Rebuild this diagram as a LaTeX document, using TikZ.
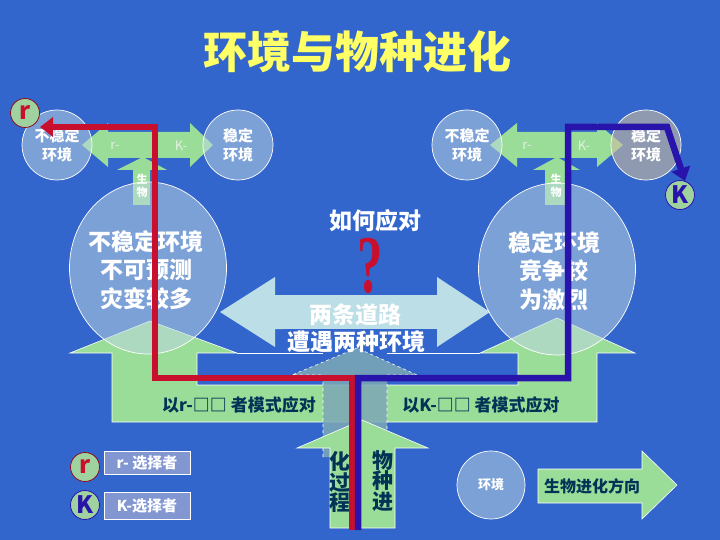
\documentclass[tikz,border=0pt]{standalone}
\usepackage{fontspec}
\setmainfont{Noto Sans CJK SC}
\newfontfamily\qfont{Liberation Serif}
\usetikzlibrary{arrows.meta,shapes.geometric}
\definecolor{bgblue}{RGB}{51,102,204}
\definecolor{titleyellow}{RGB}{255,255,102}
\definecolor{agreen}{RGB}{153,221,153}
\definecolor{acyan}{RGB}{188,222,230}
\definecolor{ateal}{RGB}{125,168,182}
\definecolor{navy}{RGB}{0,51,85}
\definecolor{circfill}{RGB}{190,215,225}
\definecolor{grayfill}{RGB}{205,190,160}
\definecolor{legfill}{RGB}{130,150,210}
\definecolor{redline}{RGB}{200,16,46}
\definecolor{blueline}{RGB}{40,20,170}
\definecolor{palegreen}{RGB}{225,242,225}
\definecolor{badgegreen}{RGB}{160,210,160}
\begin{document}
\begin{tikzpicture}[x=1pt,y=-1pt,
  greenshape/.style={fill=agreen, draw=white, line width=0.6pt},
  circ/.style={circle, fill=circfill, fill opacity=0.53, text opacity=1, draw=white, line width=0.7pt,
    minimum size=70pt, inner sep=0pt, text=white, font=\bfseries\fontsize{15}{19}\selectfont, align=center},
  bigell/.style={ellipse, fill=circfill, fill opacity=0.53, draw=white, line width=0.7pt,
    minimum width=157pt, minimum height=172pt, inner sep=0pt},
  bigtxt/.style={text=white, font=\bfseries\fontsize{23}{28.5}\selectfont, align=center, inner sep=0pt},
  smalltxt/.style={text=white, font=\bfseries\fontsize{11}{13}\selectfont, align=center, inner sep=0pt},
  lighttxt/.style={text=palegreen, font=\fontsize{13}{13}\selectfont, inner sep=0pt},
  navytxt/.style={text=navy, font=\bfseries\fontsize{17}{17}\selectfont, inner sep=0pt},
  coltxt/.style={text=navy, font=\bfseries\fontsize{21}{20.5}\selectfont, align=center, inner sep=0pt},
  routered/.style={draw=redline, line width=6.5pt, -{Triangle[length=13pt,width=19pt]}},
  routeblue/.style={draw=blueline, line width=6.5pt, -{Triangle[length=13pt,width=19pt]}},
  badge/.style={circle, fill=badgegreen, minimum size=29pt, inner sep=0pt, line width=0.8pt,
    font=\bfseries\fontsize{24}{24}\selectfont},
  legbox/.style={rectangle, fill=legfill, draw=white, line width=0.7pt, inner sep=0pt,
    minimum width=86pt, text=white, font=\bfseries\fontsize{15}{15}\selectfont}
]
\useasboundingbox (0,0) rectangle (720,540);
\fill[bgblue] (0,0) rectangle (720,540);

% title
\node[text=titleyellow, font=\bfseries\fontsize{44}{44}\selectfont, inner sep=0pt] (title) at (357,52) {环境与物种进化};

% big cyan double arrow
\fill[acyan] (220,312) -- (275,277) -- (275,295) -- (437,295) -- (437,277) -- (490,312)
  -- (437,347) -- (437,329) -- (275,329) -- (275,347) -- cycle;
\fill[bgblue] (283,329) rectangle (437,356);

% bottom green structures
\draw[greenshape] (112,422) -- (112,353) -- (70,353) -- (150,321) -- (237,353) -- (197,353)
  -- (197,385) -- (357,385) -- (357,422) -- cycle;
\draw[greenshape] (597,422) -- (597,353) -- (635,353) -- (557,318) -- (480,353) -- (518,353)
  -- (518,385) -- (357,385) -- (357,422) -- cycle;
\draw[white, line width=0.6pt] (237,353) -- (323,353);
\draw[white, line width=0.6pt] (387,353) -- (480,353);

% teal central arrow
\draw[fill=ateal, fill opacity=0.85, draw=white, dashed, line width=0.6pt]
  (323,457) -- (323,375) -- (292,375) -- (357,348) -- (417,375) -- (387,375) -- (387,457);

% lower green arrow
\draw[greenshape] (330,528) -- (330,448) -- (297,448) -- (362,420) -- (428,448) -- (395,448)
  -- (395,528) -- cycle;

% small double arrows
\fill[agreen] (82,145) -- (108,123) -- (108,132) -- (190,132) -- (190,123) -- (213,145)
  -- (190,167) -- (190,158) -- (108,158) -- (108,167) -- cycle;
\fill[agreen] (490,145) -- (517,123) -- (517,132) -- (597,132) -- (597,123) -- (623,145)
  -- (597,167) -- (597,158) -- (517,158) -- (517,167) -- cycle;
% small up arrows
\fill[agreen] (133,205) -- (133,170) -- (117,170) -- (143,157) -- (167,170) -- (150,170) -- (150,205) -- cycle;
\fill[agreen] (545,205) -- (545,170) -- (533,170) -- (557,157) -- (580,170) -- (568,170) -- (568,205) -- cycle;

% circles
\node[circ] (c1) at (57,145) {不稳定\\环境};
\node[circ] (c2) at (238,145) {稳定\\环境};
\node[circ] (c3) at (467,145) {不稳定\\环境};
\node[circ, fill=grayfill, fill opacity=0.6] (c4) at (646,145) {稳定\\环境};
\node[bigell] (e1) at (148,268) {};
\node[bigell] (e2) at (557,269) {};

% labels on arrows
\node[lighttxt] (r1) at (115,146) {r-};
\node[lighttxt] (k1) at (181,146) {K-};
\node[lighttxt] (r2) at (527,146) {r-};
\node[lighttxt] (k2) at (584,146) {K-};
\node[smalltxt] (s1) at (142,186) {生\\物};
\node[smalltxt] (s2) at (556,186) {生\\物};

% texts
\node[bigtxt] (t1) at (146,270) {不稳定环境\\不可预测\\灾变较多};
\node[bigtxt] (t2) at (554,271) {稳定环境\\竞争较\\为激烈};
\node[bigtxt] (how) at (375,221) {如何应对};
\node[text=redline, font=\qfont\bfseries\fontsize{82}{82}\selectfont, inner sep=0pt] (q) at (370,266) {\scalebox{0.62}[1]{?}};
\node[bigtxt] (two) at (355,315) {两条道路};
\node[bigtxt] (meet) at (356,342) {遭遇两种环境};
\node[navytxt] (lr) at (239,405) {以r-□□ 者模式应对};
\node[navytxt] (lk) at (481,405) {以K-□□ 者模式应对};
\node[coltxt] (col1) at (340,482) {化\\过\\程};
\node[coltxt] (col2) at (383,481) {物\\种\\进};

% bottom right
\node[circ, font=\bfseries\fontsize{13}{13}\selectfont, minimum size=68pt] (env) at (491,485) {环境};
\draw[greenshape] (538,469) -- (642,469) -- (642,451) -- (677,485) -- (642,519) -- (642,503) -- (538,503) -- cycle;
\node[text=navy, font=\bfseries\fontsize{16}{16}\selectfont, inner sep=0pt] (dir) at (592,486) {生物进化方向};

% routes
\coordinate (rS) at (352,530);
\coordinate (rA) at (352,378);
\coordinate (rB) at (155,378);
\coordinate (rC) at (155,127);
\coordinate (rE) at (40,127);
\draw[routered] (rS) -- (rA) -- (rB) -- (rC) -- (rE);
\coordinate (bS) at (358,530);
\coordinate (bA) at (358,378);
\coordinate (bB) at (568,378);
\coordinate (bC) at (568,127);
\coordinate (bD) at (667,127);
\coordinate (bE) at (685,181);
\draw[routeblue] (bS) -- (bA) -- (bB) -- (bC) -- (bD) -- (bE);

% badges
\node[badge, draw=redline!70!black, text=redline] (rb) at (25,113) {r};
\node[badge, draw=blueline, text=blueline] (kb) at (680,195) {K};

% legend
\node[badge, draw=redline!70!black, text=redline] (lrb) at (85,467) {r};
\node[badge, draw=blueline, text=blueline] (lkb) at (85,505) {K};
\node[legbox, minimum height=23pt] (lrbox) at (147,462.5) {r- 选择者};
\node[legbox, minimum height=27pt] (lkbox) at (147,505.5) {K-选择者};
\end{tikzpicture}
\end{document}
